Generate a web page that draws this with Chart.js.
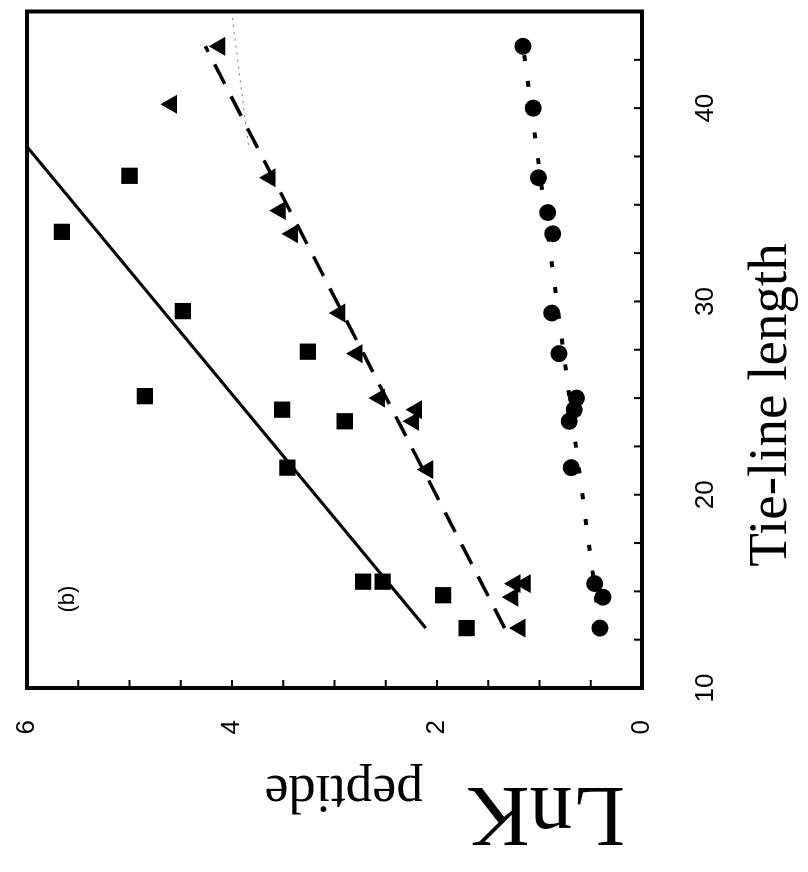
<!DOCTYPE html>
<html>
<head>
<meta charset="utf-8">
<script src="https://cdn.jsdelivr.net/npm/chart.js@4.4.0/dist/chart.umd.min.js"></script>
<style>
html, body { margin: 0; padding: 0; background: #fff; overflow: hidden; }
/* the figure is laid out landscape, then turned a quarter left */
#page {
    position: absolute; left: 0; top: 0;
    width: 872px; height: 808px;
    transform-origin: 0 0;
    transform: translate(0, 872px) rotate(-90deg);
    background: #fff;
}
</style>
</head>
<body>
<div id="page"><canvas id="myChart" width="872" height="808"></canvas></div>
<script>
// tie-line length vs ln K for each peptide
var squareTie = [33.6, 36.5, 29.5, 27.4, 25.1, 24.4, 23.8, 21.4, 15.5, 15.5, 14.8, 13.1];
var squareLnK = [5.66, 5.00, 4.48, 3.26, 4.85, 3.51, 2.90, 3.46, 2.72, 2.53, 1.94, 1.71];

var triTie = [43.2, 40.2, 36.4, 34.7, 33.5, 29.4, 27.3, 25.0, 24.4, 23.8, 21.3, 15.4, 15.4, 14.7, 13.1];
var triLnK = [4.12, 4.59, 3.63, 3.53, 3.41, 2.95, 2.78, 2.56, 2.20, 2.23, 2.09, 1.24, 1.14, 1.26, 1.19];

var circleTie = [43.2, 40.0, 36.4, 34.6, 33.5, 29.4, 27.3, 25.0, 24.4, 23.8, 21.4, 15.4, 14.7, 13.1];
var circleLnK = [1.16, 1.06, 1.01, 0.92, 0.87, 0.88, 0.81, 0.64, 0.66, 0.71, 0.69, 0.46, 0.38, 0.41];

// fitted lines (end points)
var solidTie = [13.1, 38.0];
var solidLnK = [2.11, 6.0];
var dashTie = [13.1, 43.2];
var dashLnK = [1.34, 4.26];
var dotTie = [13.1, 43.2];
var dotLnK = [0.41, 1.16];
var faintTie = [38.1, 44.8];
var faintLnK = [3.84, 4.0];

var xTicksLabelled = [10, 20, 30, 40];
var yTicksLabelled = [0, 2, 4, 6];

function toPoints(xs, ys) {
    return xs.map(function (x, i) { return {x: x, y: ys[i]}; });
}

var framePlugin = {
    id: 'frame',
    afterDraw: function (chart) {
        var ctx = chart.ctx;
        var a = chart.chartArea;
        var xs = chart.scales.x;
        var ys = chart.scales.y;
        ctx.save();
        ctx.strokeStyle = '#000';
        ctx.fillStyle = '#000';
        ctx.lineWidth = 4;
        ctx.strokeRect(a.left, a.top, a.right - a.left, a.bottom - a.top);

        // inward tick marks on the two axes
        ctx.lineWidth = 2;
        ctx.beginPath();
        xs.ticks.forEach(function (t) {
            var px = xs.getPixelForValue(t.value);
            ctx.moveTo(px, a.bottom);
            ctx.lineTo(px, a.bottom - 8);
        });
        ys.ticks.forEach(function (t) {
            var py = ys.getPixelForValue(t.value);
            ctx.moveTo(a.left, py);
            ctx.lineTo(a.left + 8, py);
        });
        ctx.stroke();

        // panel tag
        ctx.font = '22px "Liberation Sans", Arial, sans-serif';
        ctx.textAlign = 'center';
        ctx.textBaseline = 'middle';
        ctx.fillText('(b)', xs.getPixelForValue(14.6), ys.getPixelForValue(5.6));

        // x title
        ctx.font = '55px "Liberation Serif", "Times New Roman", serif';
        ctx.textBaseline = 'alphabetic';
        ctx.fillText('Tie-line length', 467, 786);

        // y title with subscript
        ctx.translate(84, 625);
        ctx.rotate(-Math.PI / 2);
        ctx.textAlign = 'left';
        ctx.font = '86px "Liberation Serif", "Times New Roman", serif';
        ctx.fillText('LnK', 0, 0);
        var w = ctx.measureText('LnK').width;
        ctx.font = '54px "Liberation Serif", "Times New Roman", serif';
        ctx.fillText('peptide', w + 44, 12);
        ctx.restore();
    }
};

Chart.defaults.font.family = '"Liberation Sans", Arial, sans-serif';
Chart.defaults.color = '#000';

new Chart(document.getElementById('myChart'), {
    type: 'scatter',
    data: {
        datasets: [
            {data: toPoints(squareTie, squareLnK), pointStyle: 'rect', pointRadius: 11.5,
             backgroundColor: '#000', borderColor: '#000', borderWidth: 0},
            {data: toPoints(triTie, triLnK), pointStyle: 'triangle', pointRadius: 11,
             backgroundColor: '#000', borderColor: '#000', borderWidth: 0},
            {data: toPoints(circleTie, circleLnK), pointStyle: 'circle', pointRadius: 8.5,
             backgroundColor: '#000', borderColor: '#000', borderWidth: 0},
            {data: toPoints(solidTie, solidLnK), showLine: true, pointRadius: 0,
             borderColor: '#000', borderWidth: 3},
            {data: toPoints(dashTie, dashLnK), showLine: true, pointRadius: 0,
             borderColor: '#000', borderWidth: 3.5, borderDash: [22, 14]},
            {data: toPoints(dotTie, dotLnK), showLine: true, pointRadius: 0,
             borderColor: '#000', borderWidth: 4, borderDash: [6, 20]},
            {data: toPoints(faintTie, faintLnK), showLine: true, pointRadius: 0,
             borderColor: '#777', borderWidth: 1, borderDash: [2, 5]}
        ]
    },
    options: {
        responsive: false,
        animation: false,
        devicePixelRatio: 1,
        layout: {padding: {top: 27, right: 6, left: 0, bottom: 0}},
        plugins: {legend: {display: false}, tooltip: {enabled: false}},
        scales: {
            x: {
                type: 'linear', min: 10, max: 45,
                grid: {display: false}, border: {display: false},
                ticks: {
                    stepSize: 2.5, autoSkip: false, maxRotation: 0, padding: 40,
                    font: {size: 26},
                    callback: function (v) { return xTicksLabelled.indexOf(v) >= 0 ? v : ''; }
                },
                afterFit: function (scale) {
                    scale.height = 166;
                    scale.paddingLeft = 0;
                    scale.paddingRight = 0;
                }
            },
            y: {
                type: 'linear', min: 0, max: 6,
                grid: {display: false}, border: {display: false},
                ticks: {
                    stepSize: 0.5, autoSkip: false, padding: 24,
                    font: {size: 26},
                    callback: function (v) { return yTicksLabelled.indexOf(v) >= 0 ? v : ''; }
                },
                afterFit: function (scale) {
                    scale.width = 184;
                    scale.paddingTop = 0;
                    scale.paddingBottom = 0;
                }
            }
        }
    },
    plugins: [framePlugin]
});
</script>
</body>
</html>
